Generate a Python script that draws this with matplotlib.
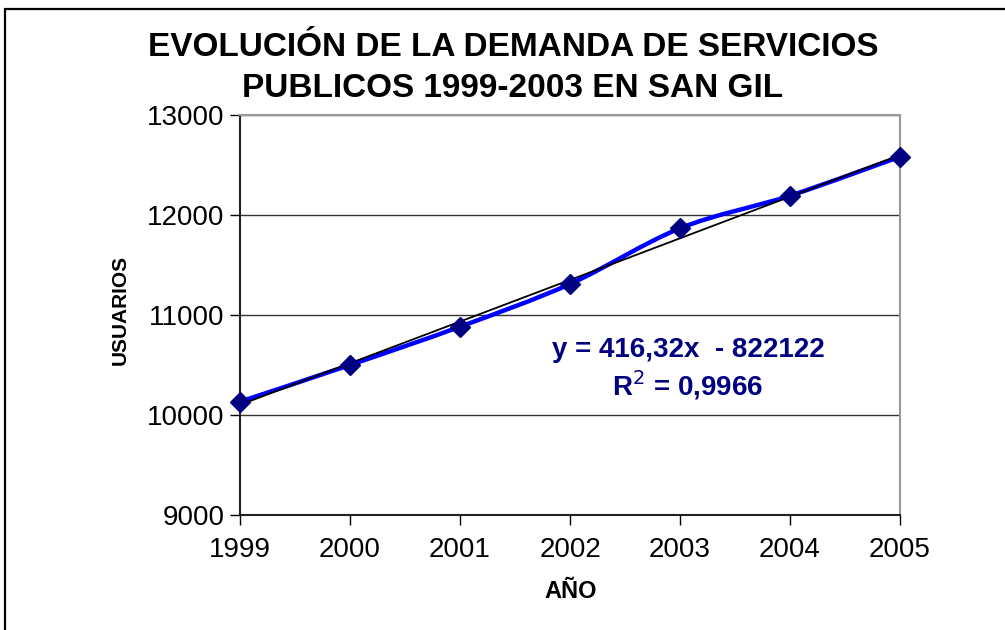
import numpy as np
import matplotlib
matplotlib.use("Agg")
import matplotlib.pyplot as plt
from matplotlib.path import Path
from matplotlib.patches import PathPatch, Rectangle

years = [1999, 2000, 2001, 2002, 2003, 2004, 2005]
usuarios = [10133, 10500, 10883, 11310, 11867, 12193, 12583]
trend_slope = 416.32
trend_intercept = -822122
trend_label = "y = 416,32x  - 822122"
r2_label = "R$^2$ = 0,9966"
y_ticks = [9000, 10000, 11000, 12000, 13000]
title = "EVOLUCIÓN DE LA DEMANDA DE SERVICIOS\nPUBLICOS 1999-2003 EN SAN GIL"

plt.rcParams['font.family'] = ['Liberation Sans', 'DejaVu Sans']

fig = plt.figure(figsize=(10.05, 6.3), dpi=100)
fig.patch.set_facecolor('white')
ax = fig.add_axes([240/1005, 1-515/630, 660/1005, 400/630])

# outer frame
fig.patches.append(Rectangle((5/1005, -0.05), 1.2, (630-9)/630 + 0.05, transform=fig.transFigure,
                             fill=False, edgecolor='black', linewidth=1.6, zorder=0))

# smoothed line (Catmull-Rom style bezier)
x = np.array(years, dtype=float)
y = np.array(usuarios, dtype=float)
verts = [(x[0], y[0])]
codes = [Path.MOVETO]
n = len(x)
for i in range(n - 1):
    p0 = np.array([x[max(i-1, 0)], y[max(i-1, 0)]])
    p1 = np.array([x[i], y[i]])
    p2 = np.array([x[i+1], y[i+1]])
    p3 = np.array([x[min(i+2, n-1)], y[min(i+2, n-1)]])
    c1 = p1 + (p2 - p0) / 6
    c2 = p2 - (p3 - p1) / 6
    verts += [tuple(c1), tuple(c2), tuple(p2)]
    codes += [Path.CURVE4] * 3
ax.add_patch(PathPatch(Path(verts, codes), facecolor='none', edgecolor='#0000FF',
                       linewidth=3.2, zorder=3, clip_on=False))
ax.plot(years, usuarios, linestyle='none', marker='D', markersize=10,
        color='#000080', zorder=5, clip_on=False)

# trend line
tx = np.array([years[0], years[-1]], dtype=float)
ax.plot(tx, trend_slope * tx + trend_intercept, color='black', linewidth=1.3, zorder=4, clip_on=False)

ax.set_xlim(years[0], years[-1])
ax.set_ylim(y_ticks[0], y_ticks[-1])
ax.set_xticks(years)
ax.set_yticks(y_ticks)
ax.tick_params(axis='both', labelsize=20, direction='out', length=7, width=1, color='black')
ax.tick_params(axis='x', pad=9)
ax.tick_params(axis='y', pad=4)
ax.grid(axis='y', color='#333333', linewidth=1)
ax.set_axisbelow(True)
for s in ['top', 'right']:
    ax.spines[s].set_color('#999999')
    ax.spines[s].set_linewidth(1.5)
for s in ['left', 'bottom']:
    ax.spines[s].set_color('#222222')
    ax.spines[s].set_linewidth(1.5)

fig.text(571/1005, 1-592/630, "AÑO", ha='center', va='center', fontsize=17, fontweight='bold')
fig.text(120/1005, 1-310/630, "USUARIOS", ha='center', va='center', rotation=90,
         fontsize=15, fontweight='bold')

fig.text(513/1005, 1-68/630, title, ha='center', va='center', fontsize=24,
         fontweight='bold', linespacing=1.38)

fig.text(688/1005, 1-350/630, trend_label, ha='center', va='center',
        fontsize=20, fontweight='bold', color='#000080')
fig.text(688/1005, 1-385/630, r2_label, ha='center', va='center',
        fontsize=20, fontweight='bold', color='#000080')

fig.savefig("out.png", dpi=100, facecolor='white')
